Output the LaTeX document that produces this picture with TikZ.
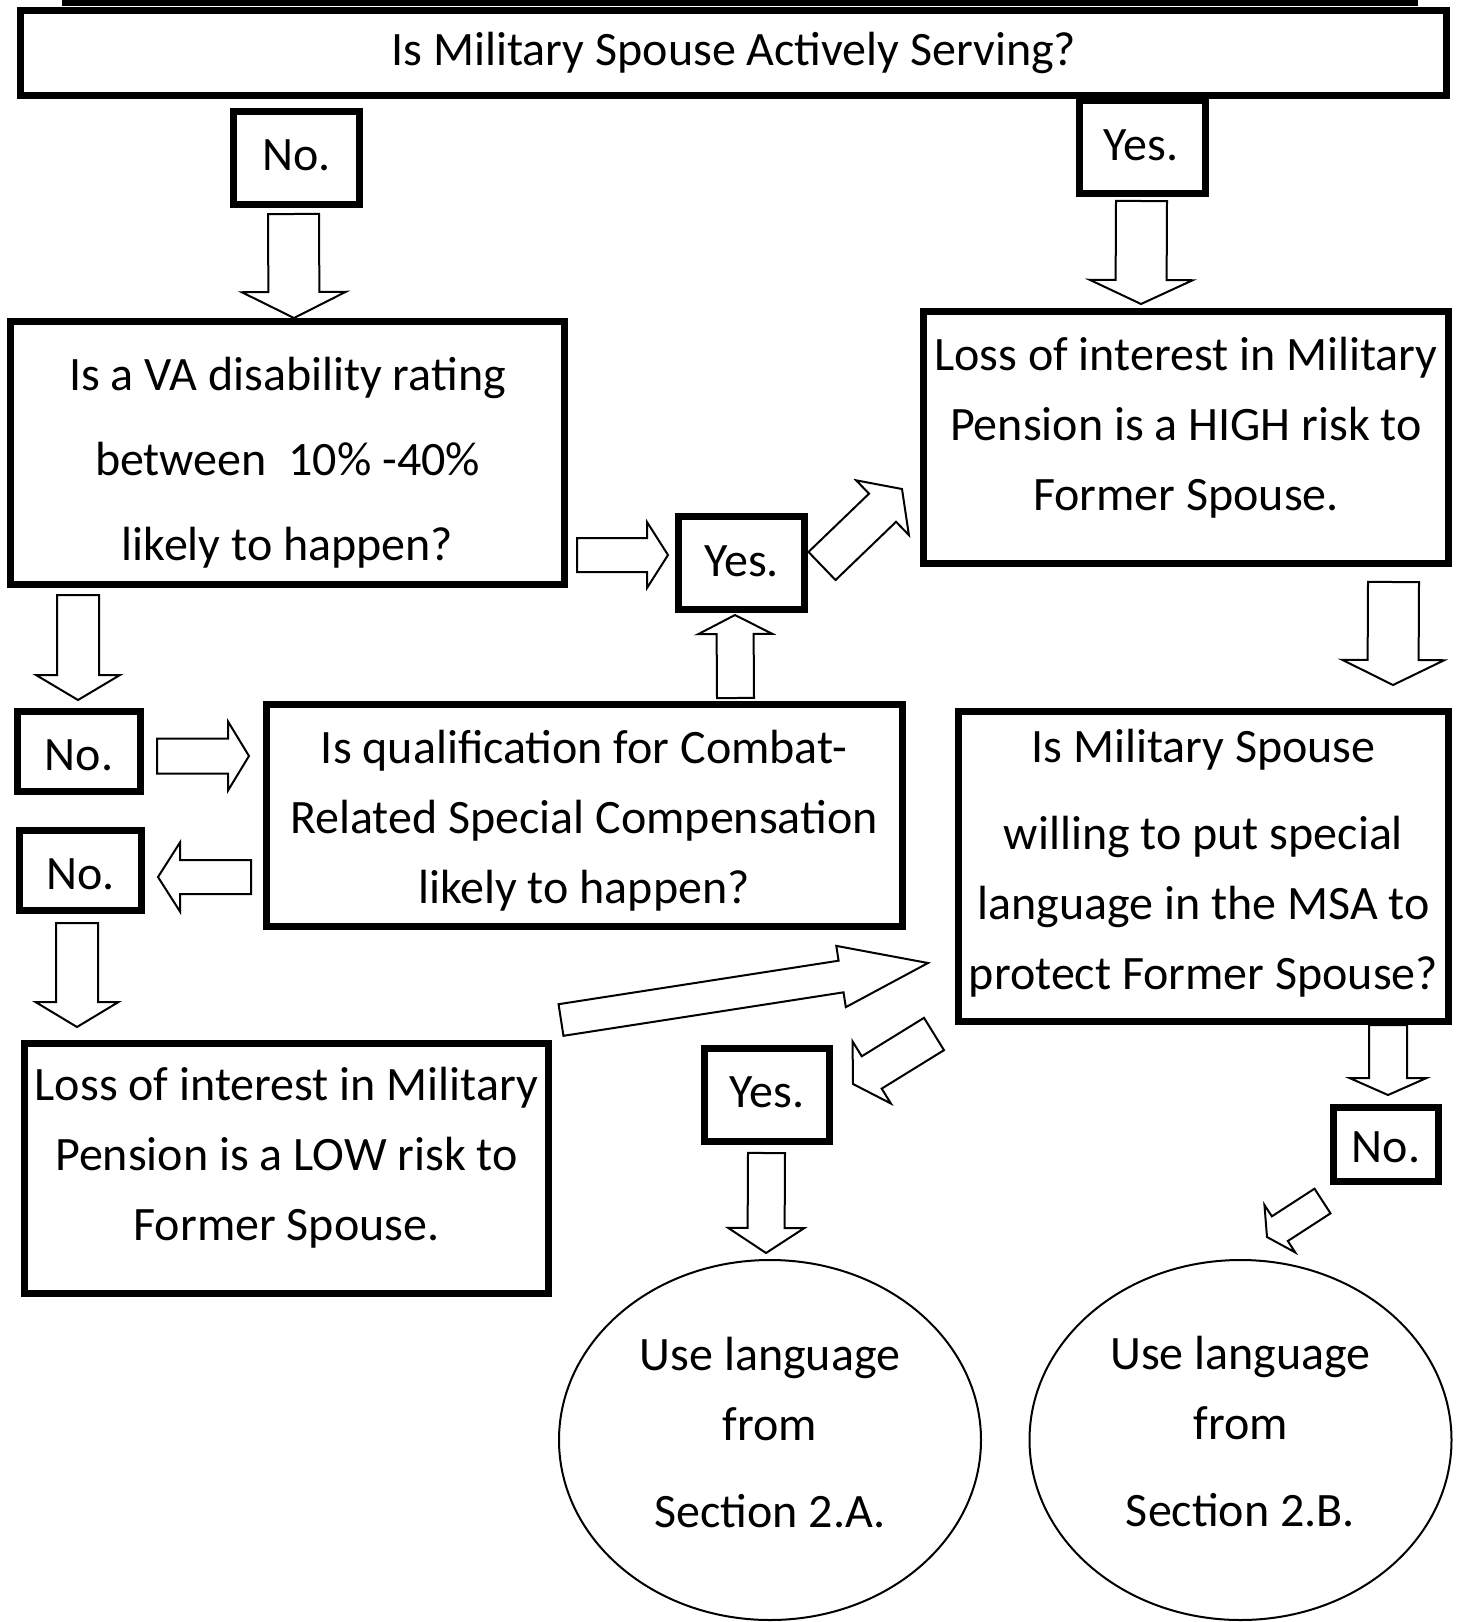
\documentclass[tikz,border=0pt]{standalone}
\usepackage{fontspec}
\setmainfont{Carlito}
\usetikzlibrary{calc,shapes.geometric}
\newcommand\blockarrow[5]{%
  \pgfmathsetmacro\bahw{#3/2}%
  \pgfmathsetmacro\baHW{#4/2}%
  \pgfmathsetmacro\baHL{#5/2}%
  \coordinate (ba-t) at (#1);
  \coordinate (ba-h) at (#2);
  \coordinate (ba-n) at ($(ba-h)!\baHL pt!(ba-t)$);
  \draw[barrow] ($(ba-t)!\bahw pt!90:(ba-h)$) -- ($(ba-n)!\bahw pt!-90:(ba-t)$)
     -- ($(ba-n)!\baHW pt!-90:(ba-t)$) -- (ba-h) -- ($(ba-n)!\baHW pt!90:(ba-t)$)
     -- ($(ba-n)!\bahw pt!90:(ba-t)$) -- ($(ba-t)!\bahw pt!-90:(ba-h)$) -- cycle;
}
\tikzset{
  box/.style={draw, line width=3.5pt, rectangle, inner sep=0pt, outer sep=0pt},
  txt/.style={font=\fontsize{24}{35}\selectfont, align=center, inner sep=0pt},
  oval/.style={draw, ellipse, line width=1pt, inner sep=0pt, outer sep=0pt},
  barrow/.style={draw, fill=white, line width=1pt, line join=miter},
}
\begin{document}
\begin{tikzpicture}[x=0.5pt, y=-0.5pt]
\fill[white] (0,0) rectangle (1461,1622);
\useasboundingbox (0,0) rectangle (1461,1622);
\fill[black] (62,0) rectangle (1418,6);

% boxes
\node[box, minimum width=713pt, minimum height=42.5pt] (top) at (733.5,53) {};
\node[box, minimum width=63pt, minimum height=46.5pt] (noA) at (296.5,158) {};
\node[box, minimum width=63pt, minimum height=46.5pt] (yesA) at (1142.5,147) {};
\node[box, minimum width=277pt, minimum height=131.5pt] (va) at (287.5,453) {};
\node[box, minimum width=262.5pt, minimum height=126pt] (high) at (1186,437.5) {};
\node[box, minimum width=63pt, minimum height=46.5pt] (yesB) at (741.5,563) {};
\node[box, minimum width=61.5pt, minimum height=40pt] (no2) at (79,751.5) {};
\node[box, minimum width=61pt, minimum height=40pt] (no3) at (80.5,870.5) {};
\node[box, minimum width=318pt, minimum height=111pt] (combat) at (584.5,815.5) {};
\node[box, minimum width=245pt, minimum height=155pt] (msa) at (1203.5,866.5) {};
\node[box, minimum width=262pt, minimum height=125pt] (low) at (286.5,1168.5) {};
\node[box, minimum width=62.5pt, minimum height=46.5pt] (yesC) at (767,1095) {};
\node[box, minimum width=52.5pt, minimum height=37pt] (noR) at (1386,1144.5) {};
\node[oval, minimum width=211pt, minimum height=180pt] (ellA) at (770,1440) {};
\node[oval, minimum width=211pt, minimum height=180pt] (ellB) at (1240.5,1440) {};

% texts
\node[txt, anchor=base] (top-t) at (734,65) {Is Military Spouse Actively Serving?};
\node[txt, anchor=base] (noA-t) at (296.5,170) {No.};
\node[txt, anchor=base] (yesA-t) at (1141,160) {Yes.};
\node[txt, anchor=north] (va-t) at (287.5,341) {\strut Is a VA disability rating\\[7.5pt]\strut between\ \ 10\% -40\%\\[7.5pt]\strut likely to happen?};
\node[txt, anchor=north] (high-t) at (1186,321) {\strut Loss of interest in Military\\\strut Pension is a HIGH risk to\\\strut Former Spouse.};
\node[txt, anchor=base] (yesB-t) at (741.5,576) {Yes.};
\node[txt, anchor=base] (no2-t) at (79,770) {No.};
\node[txt, anchor=base] (no3-t) at (80.5,889) {No.};
\node[txt, anchor=north] (combat-t) at (584,714) {\strut Is qualification for Combat-\\\strut Related Special Compensation\\\strut likely to happen?};
\node[txt, anchor=north] (msa-t) at (1203.5,713) {\strut Is Military Spouse\\[8.5pt]\strut willing to put special\\\strut language in the MSA to\\\strut protect Former Spouse?};
\node[txt, anchor=north] (low-t) at (286.5,1051) {\strut Loss of interest in Military\\\strut Pension is a LOW risk to\\\strut Former Spouse.};
\node[txt, anchor=base] (yesC-t) at (767,1107) {Yes.};
\node[txt, anchor=base] (noR-t) at (1386,1162) {No.};
\node[txt, anchor=north] (ellA-t) at (770,1321) {\strut Use language\\\strut from\\[8.5pt]\strut Section 2.A.};
\node[txt, anchor=north] (ellB-t) at (1240.5,1320) {\strut Use language\\\strut from\\[8.5pt]\strut Section 2.B.};

% block arrows
\blockarrow{$(noA.south)+(-3,9.5)$}{$(va.north)+(6.5,-3.5)$}{25.5}{52}{26}
\blockarrow{$(yesA.south)+(-1,7.5)$}{$(high.north)+(-45,-7.5)$}{25.5}{51.5}{24}
\blockarrow{$(va.south east)+(12.5,-29.5)$}{$(yesB.west)+(-10.5,-8)$}{17}{33}{21}
\blockarrow{$(combat.north)+(151,-6.5)$}{$(yesB.south)+(-6.5,5.5)$}{18.5}{37}{19}
\blockarrow{$(yesB.east)+(17.5,3)$}{$(high.west)+(-21.5,51.5)$}{19.5}{38}{27}
\blockarrow{$(va.south west)+(67.5,10.5)$}{$(no2.north)+(-1,-11.5)$}{21}{42}{25}
\blockarrow{$(no2.east)+(16.5,4.5)$}{$(combat.west)+(-17.5,-59.5)$}{17.5}{34.5}{21}
\blockarrow{$(combat.west)+(-15.5,61.5)$}{$(no3.east)+(16.5,6.5)$}{17}{34.5}{22}
\blockarrow{$(no3.south)+(-3.5,12.5)$}{$(low.north west)+(52.5,-16.5)$}{21}{41.5}{25}
\blockarrow{$(low.north east)+(12.5,-23.5)$}{$(msa.south west)+(-30.5,-58.5)$}{16}{31}{88}
\blockarrow{$(msa.south west)+(-24.5,12.5)$}{$(yesC.east)+(23.5,-11)$}{19}{36.5}{22}
\blockarrow{$(high.south east)+(-55,18.5)$}{$(msa.north east)+(-55.5,-26.5)$}{25.5}{51}{25}
\blockarrow{$(msa.south east)+(-60.5,3.5)$}{$(noR.north)+(2,-12.5)$}{19}{38.5}{17}
\blockarrow{$(noR.south west)+(-11,19.5)$}{$(ellB.north)+(26.5,-23)$}{14.7}{28.3}{15.3}
\blockarrow{$(yesC.south)+(-0.5,11.5)$}{$(ellA.north)+(-4,-7)$}{18.5}{38}{25}
\end{tikzpicture}
\end{document}
